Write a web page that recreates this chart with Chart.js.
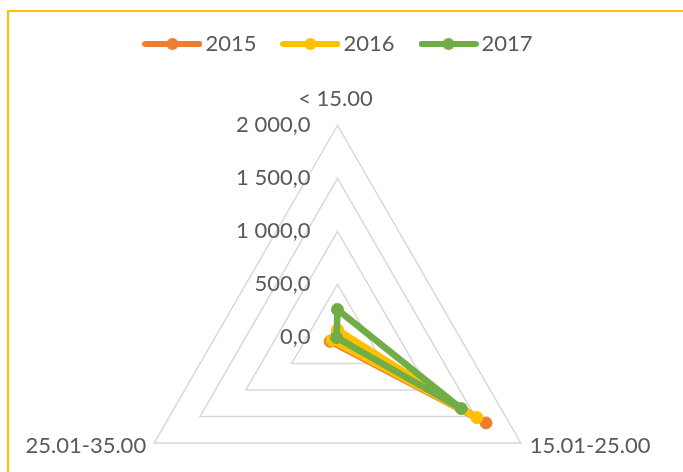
<!DOCTYPE html>
<html>
<head>
<meta charset="utf-8">
<script src="https://cdn.jsdelivr.net/npm/chart.js@4/dist/chart.umd.min.js"></script>
<style>
  html, body { margin: 0; padding: 0; background: #fff; }
  #wrap { position: relative; width: 683px; height: 472px; overflow: hidden; }
  #frame { position: absolute; left: 7px; top: 10px; right: -10px; bottom: -10px; border-top: 2px solid #FFC000; border-left: 2px solid #FFC000; }
  canvas { position: absolute; left: 0; top: 0; }
</style>
</head>
<body>
<div id="wrap"><div id="frame"></div><canvas id="chart" width="683" height="472"></canvas></div>
<script>
const categories = ['< 15.00', '15.01-25.00', '25.01-35.00'];
const years = ['2015', '2016', '2017'];
const values2015 = [40, 1620, 80];
const values2016 = [70, 1520, 60];
const values2017 = [260, 1350, 10];
const tickMin = 0;
const tickMax = 2000;
const tickStep = 500;
const colors = ['#ED7D31', '#FFC000', '#70AD47'];

const textColor = '#595959';
const fontFamily = 'Lato';
const radiusRatio = 0.31;   // radar radius as a share of the chart width

function fmt(v) {
  return v.toFixed(1).replace('.', ',').replace(/\B(?=(\d{3})+(?!\d))/g, ' ');
}

// line with a dot in the middle, like the Excel legend key
function legendMark(color) {
  const c = document.createElement('canvas');
  c.width = 60;
  c.height = 16;
  const g = c.getContext('2d');
  g.strokeStyle = color;
  g.lineWidth = 6;
  g.lineCap = 'round';
  g.beginPath(); g.moveTo(3, 8); g.lineTo(57, 8); g.stroke();
  g.fillStyle = color;
  g.beginPath(); g.arc(30, 8, 6, 0, Math.PI * 2); g.fill();
  return c;
}
const marks = colors.map(legendMark);

// tick labels left of the top axis and category labels at the vertices
const radarText = {
  id: 'radarText',
  afterDraw(chart) {
    const s = chart.scales.r;
    const ctx = chart.ctx;
    ctx.save();
    ctx.font = `22px ${fontFamily}`;
    ctx.fillStyle = textColor;
    ctx.textBaseline = 'middle';
    ctx.textAlign = 'right';
    s.ticks.forEach(t => {
      const d = s.getDistanceFromCenterForValue(t.value);
      ctx.fillText(fmt(t.value), s.xCenter - 27, s.yCenter - d);
    });
    categories.forEach((lab, i) => {
      const p = s.getPointPosition(i, s.drawingArea);
      if (i === 0) {
        ctx.textAlign = 'center';
        ctx.fillText(lab, p.x - 2, p.y - 26);
      } else if (i === 1) {
        ctx.textAlign = 'left';
        ctx.fillText(lab, p.x + 9, p.y + 3);
      } else {
        ctx.textAlign = 'right';
        ctx.fillText(lab, p.x - 8, p.y + 3);
      }
    });
    ctx.restore();
  }
};

const seriesValues = [values2015, values2016, values2017];

new Chart(document.getElementById('chart'), {
  type: 'radar',
  data: {
    labels: categories,
    datasets: years.map((y, i) => ({
      label: y,
      data: seriesValues[i],
      borderColor: colors[i],
      backgroundColor: colors[i],
      pointBackgroundColor: colors[i],
      pointBorderColor: colors[i],
      borderWidth: 6.5,
      pointRadius: 6,
      pointBorderWidth: 1,
      fill: false,
      order: 2 - i
    }))
  },
  options: {
    responsive: false,
    animation: false,
    events: [],
    layout: { padding: { top: 1, left: 0, right: 0, bottom: 29 } },
    plugins: {
      tooltip: { enabled: false },
      legend: {
        position: 'top',
        labels: {
          usePointStyle: true,
          pointStyleWidth: 44,
          padding: 32,
          color: textColor,
          font: { family: fontFamily, size: 22 },
          sort: (a, b) => a.datasetIndex - b.datasetIndex,
          generateLabels(chart) {
            const items = Chart.defaults.plugins.legend.labels.generateLabels(chart);
            items.forEach(it => { it.pointStyle = marks[it.datasetIndex]; });
            return items;
          }
        }
      }
    },
    scales: {
      r: {
        min: tickMin,
        max: tickMax,
        ticks: { stepSize: tickStep, display: false },
        angleLines: { display: false },
        pointLabels: { display: false },
        grid: { color: '#D9D9D9', lineWidth: 1.5 },
        afterFit(scale) {
          const r = scale.width * radiusRatio;
          scale.drawingArea = r;
          scale.xCenter = scale.left + scale.width / 2 - 4;
          scale.yCenter = scale.bottom - r / 2;
        }
      }
    }
  },
  plugins: [radarText]
});
</script>
</body>
</html>
